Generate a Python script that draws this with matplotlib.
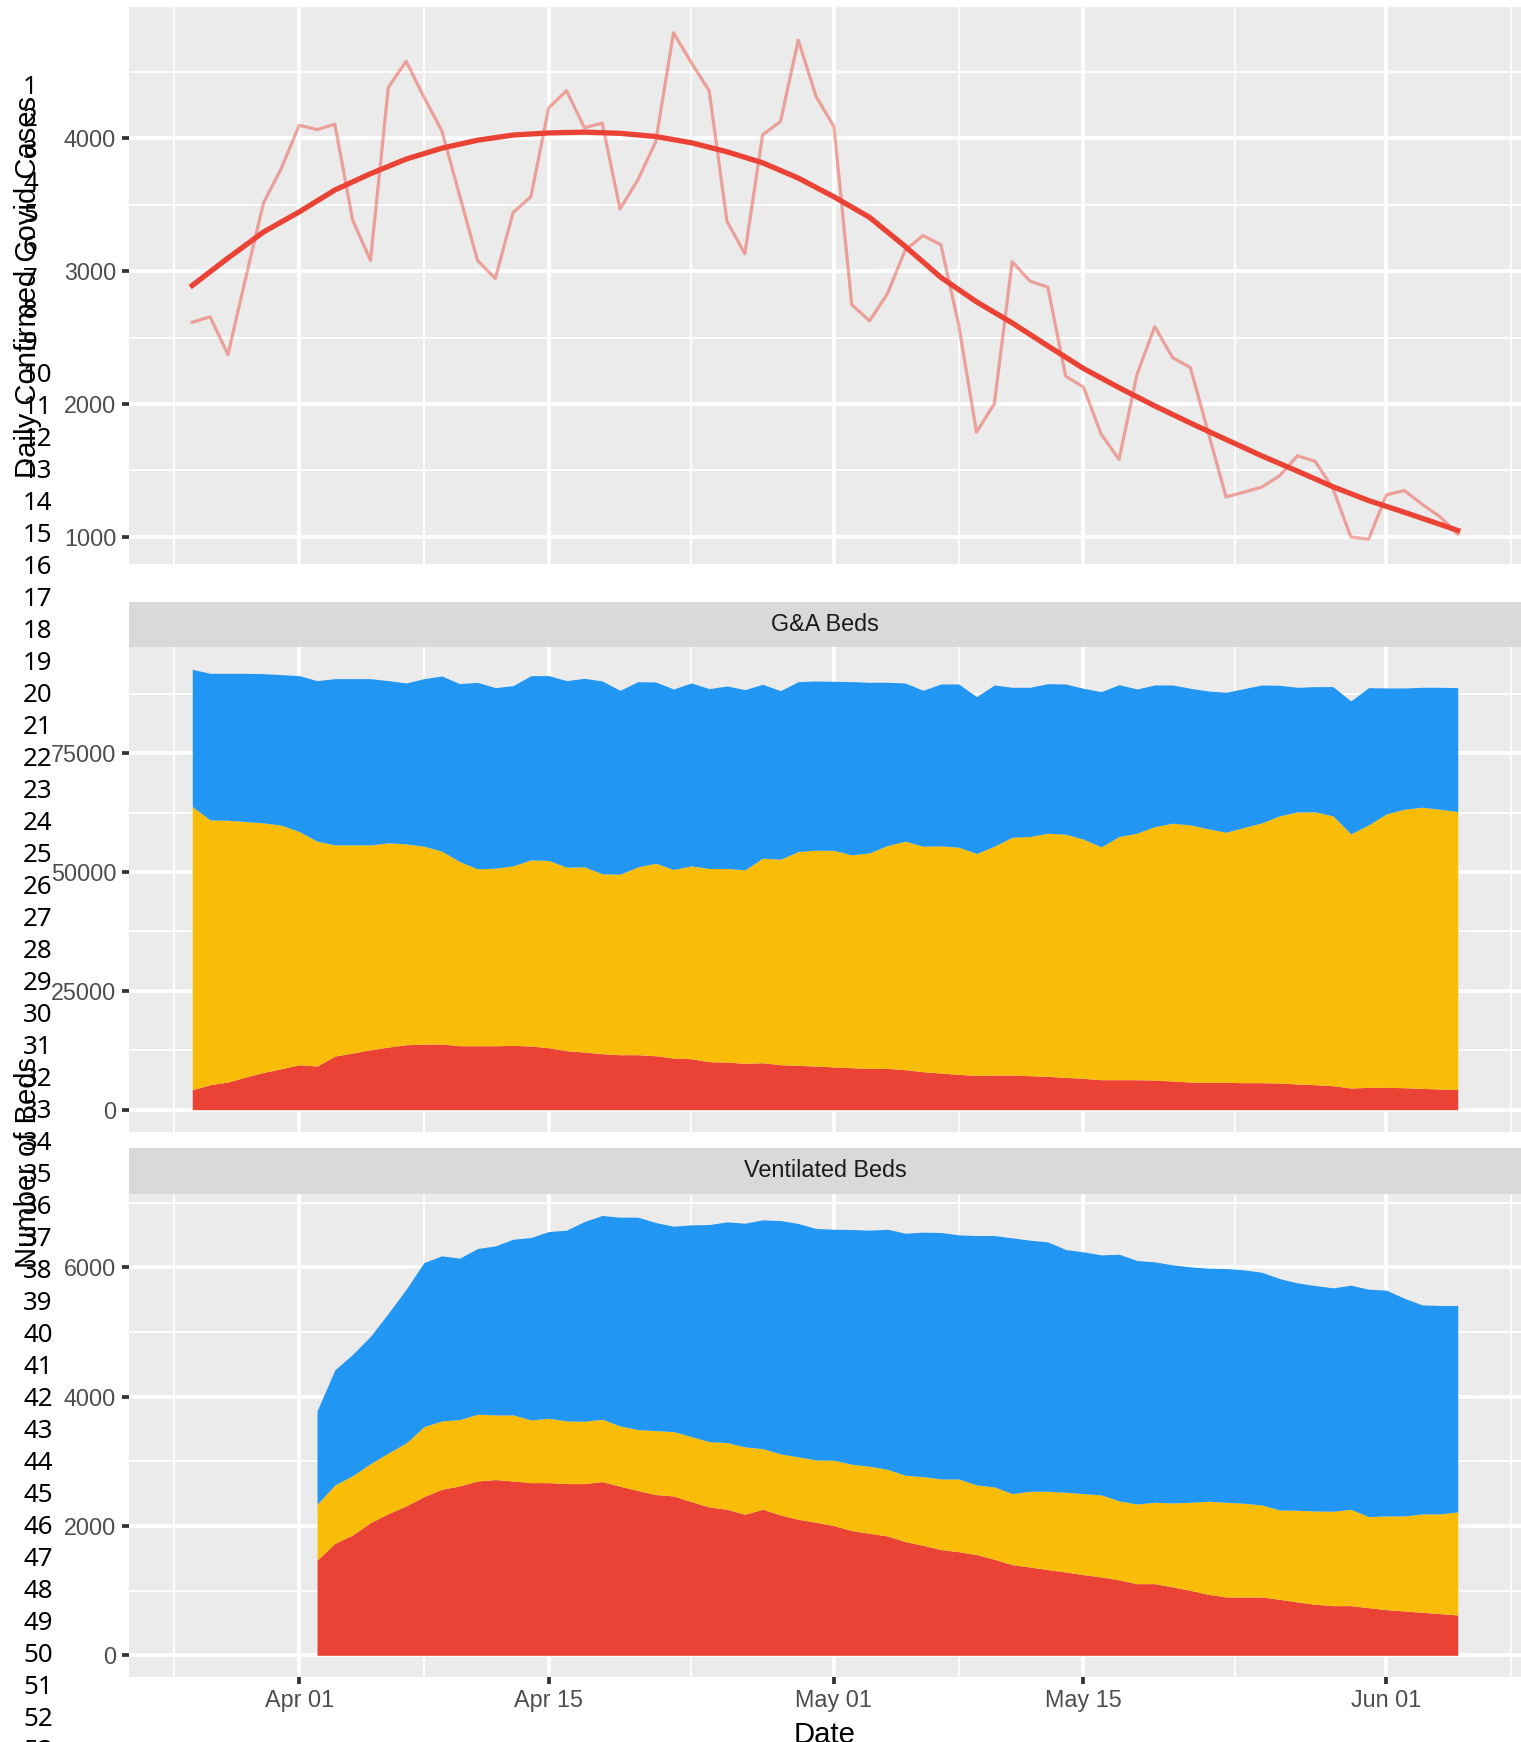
import numpy as np
import matplotlib
matplotlib.use("Agg")
import matplotlib.pyplot as plt
import matplotlib.dates as mdates
from matplotlib.ticker import FixedLocator

plt.rcParams['font.family'] = ['Liberation Sans', 'DejaVu Sans']

# ---- data ----
start_all = np.datetime64('2020-03-26')
days_all = np.arange(start_all, np.datetime64('2020-06-06'))      # Mar 26 .. Jun 05
days_vent = np.arange(np.datetime64('2020-04-02'), np.datetime64('2020-06-06'))

daily_cases = [2615, 2656, 2371, 2950, 3515, 3775, 4099, 4066, 4107, 3383,
               3081, 4384, 4581, 4310, 4058, 3570, 3081, 2944, 3441, 3561,
               4230, 4359, 4080, 4115, 3468, 3687, 3973, 4795, 4570, 4359,
               3375, 3131, 4027, 4126, 4740, 4315, 4090, 2747, 2626, 2829,
               3158, 3268, 3199, 2596, 1787, 2001, 3071, 2925, 2879, 2209,
               2127, 1771, 1582, 2220, 2582, 2349, 2273, 1787, 1299, 1335,
               1373, 1458, 1609, 1568, 1362, 998, 981, 1315, 1348, 1244,
               1151, 1020]

# smoothed trend, read every second day
smooth_dates = np.array(['2020-03-26', '2020-03-28', '2020-03-30', '2020-04-01',
                         '2020-04-03', '2020-04-05', '2020-04-07', '2020-04-09',
                         '2020-04-11', '2020-04-13', '2020-04-15', '2020-04-17',
                         '2020-04-19', '2020-04-21', '2020-04-23', '2020-04-25',
                         '2020-04-27', '2020-04-29', '2020-05-01', '2020-05-03',
                         '2020-05-05', '2020-05-07', '2020-05-09', '2020-05-11',
                         '2020-05-13', '2020-05-15', '2020-05-17', '2020-05-19',
                         '2020-05-21', '2020-05-23', '2020-05-25', '2020-05-27',
                         '2020-05-29', '2020-05-31', '2020-06-02', '2020-06-04',
                         '2020-06-05'], dtype='datetime64[D]')
smooth_cases = [2892, 3098, 3295, 3446, 3611, 3734, 3844, 3926, 3986, 4025,
                4041, 4047, 4038, 4014, 3967, 3899, 3816, 3701, 3560, 3405,
                3186, 2953, 2769, 2610, 2437, 2267, 2122, 1985, 1856, 1732,
                1609, 1494, 1376, 1272, 1184, 1093, 1047]

# G&A beds: covid patients, all occupied, total available
ga_covid = [4205, 5257, 5817, 6869, 7850, 8621, 9462, 9182, 11284, 11915,
            12616, 13177, 13668, 13808, 13808, 13457, 13457, 13457, 13527, 13387,
            13037, 12406, 12126, 11775, 11565, 11565, 11355, 10864, 10724, 10093,
            10023, 9742, 9883, 9462, 9322, 9182, 9000, 8831, 8691, 8691,
            8411, 7990, 7710, 7430, 7219, 7289, 7289, 7149, 7009, 6799,
            6588, 6308, 6308, 6308, 6238, 6028, 5817, 5747, 5747, 5677,
            5677, 5607, 5397, 5257, 5046, 4556, 4696, 4696, 4626, 4486,
            4346, 4275]
ga_occupied = [63782, 60978, 60908, 60628, 60347, 59857, 58525, 56493, 55721, 55721,
               55721, 56142, 55932, 55441, 54390, 52217, 50675, 50815, 51306, 52568,
               52428, 51026, 51096, 49624, 49554, 51096, 51867, 50535, 51306, 50745,
               50745, 50465, 52918, 52708, 54320, 54600, 54560, 53619, 54039, 55581,
               56493, 55441, 55511, 55231, 53899, 55441, 57334, 57474, 58175, 57964,
               56913, 55301, 57474, 58175, 59577, 60278, 59927, 59086, 58385, 59366,
               60347, 61819, 62660, 62660, 61819, 58034, 59927, 62240, 63221, 63642,
               63221, 62730]
ga_total = [92659, 91818, 91818, 91818, 91748, 91538, 91327, 90276, 90697, 90697,
            90697, 90276, 89785, 90697, 91257, 89645, 89925, 88804, 89224, 91327,
            91327, 90276, 90767, 90206, 88243, 90066, 89995, 88523, 89785, 88593,
            89154, 88383, 89505, 88173, 90066, 90206, 90136, 90066, 89925, 89925,
            89785, 88243, 89575, 89575, 86912, 89364, 88874, 88874, 89645, 89575,
            88663, 87962, 89435, 88523, 89364, 89364, 88663, 88102, 87822, 88593,
            89364, 89294, 88874, 89014, 89014, 86000, 88804, 88733, 88733, 88874,
            88874, 88804]

# Ventilated beds
vent_covid = [1469, 1732, 1861, 2052, 2191, 2309, 2454, 2567, 2619, 2696,
              2717, 2696, 2670, 2670, 2655, 2655, 2686, 2614, 2547, 2485,
              2464, 2376, 2294, 2258, 2181, 2258, 2170, 2103, 2057, 2005,
              1928, 1887, 1845, 1758, 1701, 1634, 1603, 1557, 1485, 1402,
              1366, 1325, 1289, 1248, 1211, 1165, 1108, 1108, 1057, 1005,
              943, 902, 902, 902, 866, 825, 789, 768, 768, 737,
              706, 686, 665, 644, 624]
vent_occupied = [2335, 2634, 2778, 2964, 3129, 3284, 3536, 3624, 3645, 3727,
                 3717, 3717, 3639, 3665, 3624, 3619, 3650, 3547, 3490, 3474,
                 3459, 3382, 3304, 3289, 3222, 3196, 3114, 3068, 3021, 3016,
                 2954, 2923, 2876, 2784, 2763, 2727, 2727, 2634, 2603, 2500,
                 2536, 2536, 2521, 2500, 2480, 2387, 2340, 2366, 2356, 2366,
                 2382, 2366, 2351, 2325, 2248, 2242, 2232, 2227, 2258, 2144,
                 2155, 2155, 2186, 2186, 2217]
vent_total = [3779, 4413, 4655, 4933, 5289, 5660, 6073, 6176, 6140, 6289,
              6330, 6433, 6459, 6552, 6573, 6707, 6800, 6774, 6774, 6691,
              6634, 6655, 6660, 6701, 6681, 6732, 6722, 6676, 6598, 6588,
              6583, 6573, 6588, 6526, 6542, 6537, 6500, 6490, 6490, 6454,
              6418, 6392, 6274, 6238, 6191, 6201, 6104, 6083, 6037, 6006,
              5985, 5980, 5959, 5923, 5825, 5758, 5717, 5681, 5722, 5660,
              5645, 5521, 5418, 5408, 5408]

major_dates = np.array(['2020-04-01', '2020-04-15', '2020-05-01', '2020-05-15', '2020-06-01'],
                       dtype='datetime64[m]')
minor_dates = np.array(['2020-03-25', '2020-04-08', '2020-04-23', '2020-05-08',
                        '2020-05-23T12:00', '2020-06-08'], dtype='datetime64[m]')

RED, YELLOW, BLUE = '#EA4335', '#F9BC07', '#2196F3'

W, H = 1521, 1742
fig = plt.figure(figsize=(W / 100, H / 100), dpi=100)


def box(left, top, right, bottom):
    return [left / W, 1 - bottom / H, (right - left) / W, (bottom - top) / H]


def expand(lo, hi):
    pad = 0.05 * (hi - lo)
    return lo - pad, hi + pad


xnum = mdates.date2num(days_all.astype('datetime64[m]'))
xlim = expand(xnum[0], xnum[-1])


def style(ax, show_x):
    ax.set_facecolor('#EBEBEB')
    for s in ax.spines.values():
        s.set_visible(False)
    ax.set_axisbelow(True)
    ax.grid(which='major', color='white', linewidth=2.7)
    ax.grid(which='minor', color='white', linewidth=1.36)
    ax.set_xlim(xlim)
    ax.xaxis.set_major_locator(FixedLocator(mdates.date2num(major_dates)))
    ax.xaxis.set_minor_locator(FixedLocator(mdates.date2num(minor_dates)))
    ax.xaxis.set_major_formatter(mdates.DateFormatter('%b %d'))
    ax.tick_params(which='minor', length=0)
    ax.tick_params(axis='y', which='major', length=5.25, width=2.7, color='#333333',
                   pad=4, labelsize=16.85, labelcolor='#4D4D4D')
    if show_x:
        ax.tick_params(axis='x', which='major', length=5.25, width=2.7, color='#333333',
                       pad=3, labelsize=16.85, labelcolor='#4D4D4D')
    else:
        ax.tick_params(axis='x', which='major', length=0, labelbottom=False)


def strip(top, bottom, label):
    s = fig.add_axes(box(129, top, 1521, bottom))
    s.set_facecolor('#D9D9D9')
    s.set_xticks([])
    s.set_yticks([])
    for sp in s.spines.values():
        sp.set_visible(False)
    s.text(0.5, 0.5, label, ha='center', va='center', fontsize=16.85, color='#1A1A1A',
           transform=s.transAxes)


# ---- panel 1: daily cases ----
ax1 = fig.add_axes(box(129, 7.5, 1521, 564.5))
style(ax1, False)
ax1.plot(days_all, daily_cases, color=RED, alpha=0.45, linewidth=2.3)
ax1.plot(smooth_dates, smooth_cases, color=RED, linewidth=3.8)
ax1.set_ylim(expand(min(daily_cases), max(daily_cases)))
ax1.yaxis.set_major_locator(FixedLocator([1000, 2000, 3000, 4000]))
ax1.yaxis.set_minor_locator(FixedLocator([1500, 2500, 3500, 4500]))
ax1.set_yticklabels(['1000', '2000', '3000', '4000'])
ax1.set_xlim(xlim)

# ---- panel 2: G&A beds ----
strip(601.7, 647.3, 'G&A Beds')
ax2 = fig.add_axes(box(129, 647.3, 1521, 1131.7))
style(ax2, False)
ax2.fill_between(days_all, 0, ga_covid, color=RED, linewidth=0)
ax2.fill_between(days_all, ga_covid, ga_occupied, color=YELLOW, linewidth=0)
ax2.fill_between(days_all, ga_occupied, ga_total, color=BLUE, linewidth=0)
ax2.set_ylim(expand(0, max(ga_total)))
ax2.yaxis.set_major_locator(FixedLocator([0, 25000, 50000, 75000]))
ax2.yaxis.set_minor_locator(FixedLocator([12500, 37500, 62500, 87500]))
ax2.set_yticklabels(['0', '25000', '50000', '75000'])
ax2.set_xlim(xlim)

# ---- panel 3: ventilated beds ----
strip(1148, 1193.5, 'Ventilated Beds')
ax3 = fig.add_axes(box(129, 1193.5, 1521, 1677.3))
style(ax3, True)
ax3.fill_between(days_vent, 0, vent_covid, color=RED, linewidth=0)
ax3.fill_between(days_vent, vent_covid, vent_occupied, color=YELLOW, linewidth=0)
ax3.fill_between(days_vent, vent_occupied, vent_total, color=BLUE, linewidth=0)
ax3.set_ylim(expand(0, max(vent_total)))
ax3.yaxis.set_major_locator(FixedLocator([0, 2000, 4000, 6000]))
ax3.yaxis.set_minor_locator(FixedLocator([1000, 3000, 5000, 7000]))
ax3.set_yticklabels(['0', '2000', '4000', '6000'])
ax3.set_xlim(xlim)

# ---- axis titles ----
fig.text(36 / W, 1 - 287 / H, 'Daily Confirmed Covid Cases', rotation=90,
         rotation_mode='anchor', ha='center', va='baseline', fontsize=21.1)
fig.text(36 / W, 1 - 1162 / H, 'Number of Beds', rotation=90,
         rotation_mode='anchor', ha='center', va='baseline', fontsize=21.1)
fig.text(825 / W, 1 - 1743 / H, 'Date', ha='center', va='baseline', fontsize=21.1)

# ---- stray line numbers down the left edge ----
for n in range(1, 54):
    fig.text(23 / W, 1 - (93.5 + (n - 1) * 32.0) / H, str(n), ha='left', va='baseline',
             fontsize=18.6, family=['Noto Sans', 'DejaVu Sans'], color='black')

fig.savefig('out.png', dpi=100)
